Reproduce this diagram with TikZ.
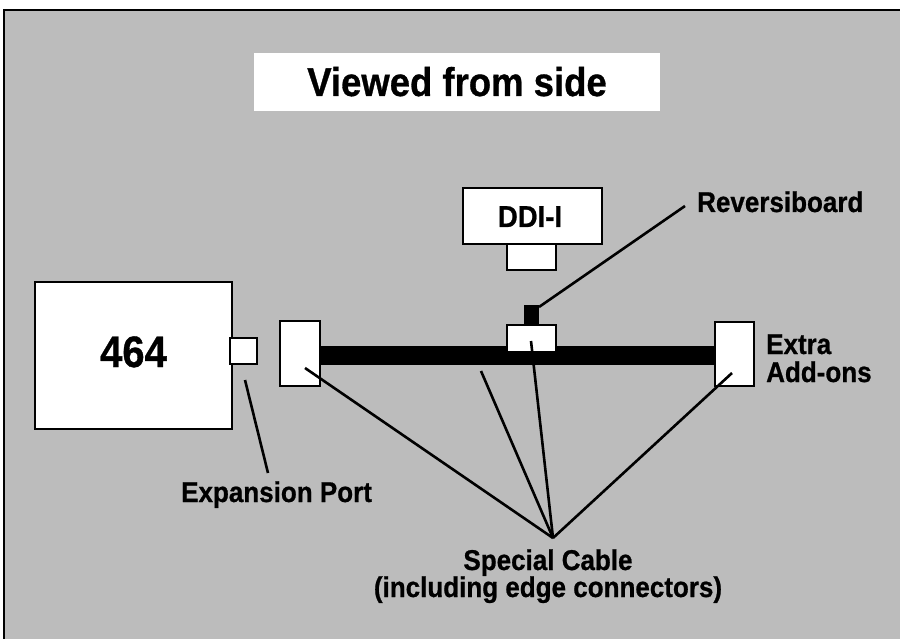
\documentclass[tikz,border=0pt]{standalone}
\usepackage{fontspec}
\usepackage{graphicx}
\setmainfont{Liberation Sans}[BoldFeatures={FakeBold=0.8}]
\definecolor{bggray}{RGB}{188,188,188}
\newcommand{\tallt}[1]{\scalebox{1}[1.1]{#1}}
\tikzset{
  box/.style={draw=black, line width=2.6pt, fill=white, minimum width=#1, inner sep=0pt},
  lead/.style={line width=2.6pt, black},
  lbl/.style={font=\bfseries\fontsize{26}{24}\selectfont, inner sep=0pt, text=black},
}
\begin{document}
\begin{tikzpicture}[x=1pt, y=-1pt]
\useasboundingbox (0,0) rectangle (900,639);
\fill[white] (0,0) rectangle (900,639);
\fill[bggray] (4,10) rectangle (900,639);
\draw[line width=2pt] (4,639) -- (4,10) -- (900,10);
% title
\node[fill=white, minimum width=406pt, minimum height=58pt, inner sep=0pt] (title) at (457,82) {};
\node[lbl, font=\bfseries\fontsize{36.5}{40}\selectfont, anchor=base] (titletext) at (457,96) {\tallt{Viewed from side}};
% 464 computer
\node[box=197pt, minimum height=147pt] (c464) at (133.5,355.5) {};
\node[font=\bfseries\fontsize{40}{44}\selectfont, anchor=base] (c464t) at (133.5,367) {\tallt{464}};
\node[box=27pt, minimum height=26pt] (port) at (243.5,351) {};
% cable
\node[fill=black, minimum width=397pt, minimum height=19pt, inner sep=0pt] (bar) at (517.5,355) {};
\node[box=40pt, minimum height=65pt] (lconn) at (300,353.5) {};
\node[box=39pt, minimum height=64pt] (rconn) at (734.5,354) {};
\node[box=49pt, minimum height=27pt] (mconn) at (531.5,338.5) {};
\node[fill=black, minimum width=15pt, minimum height=20pt, inner sep=0pt] (rev) at (531.5,315) {};
% DDI-I
\node[box=139pt, minimum height=56pt] (ddi) at (532.5,216) {};
\node[lbl, font=\bfseries\fontsize{27.5}{30}\selectfont, anchor=base] (dditext) at (530,227) {\tallt{DDI-I}};
\node[box=49pt, minimum height=26pt] (ddilow) at (531.5,257) {};
% labels
\node[lbl, anchor=base west] (revlbl) at (697,212) {\tallt{Reversiboard}};
\node[lbl, anchor=base west] (extra) at (766,354) {\tallt{Extra}};
\node[lbl, anchor=base west] (addons) at (766,382) {\tallt{Add-ons}};
\node[lbl, anchor=base west] (explbl) at (181,502) {\tallt{Expansion Port}};
\node[lbl, anchor=base] (cable1) at (548,570) {\tallt{Special Cable}};
\node[lbl, anchor=base] (cable2) at (548,597) {\tallt{(including edge connectors)}};
% leader lines
\coordinate (apex) at (553,538);
\coordinate (revend) at (685,206);
\coordinate (revstart) at (539,307);
\coordinate (portstart) at (245,380);
\coordinate (portend) at (268,473);
\coordinate (l1) at (305,368);
\coordinate (l2) at (481,371);
\coordinate (l3) at (531,341);
\coordinate (l4) at (732,373);
\draw[lead] (revstart) -- (revend);
\draw[lead] (portstart) -- (portend);
\draw[lead] (l1) -- (apex);
\draw[lead] (l2) -- (apex);
\draw[lead] (l3) -- (apex);
\draw[lead] (l4) -- (apex);
\end{tikzpicture}
\end{document}
